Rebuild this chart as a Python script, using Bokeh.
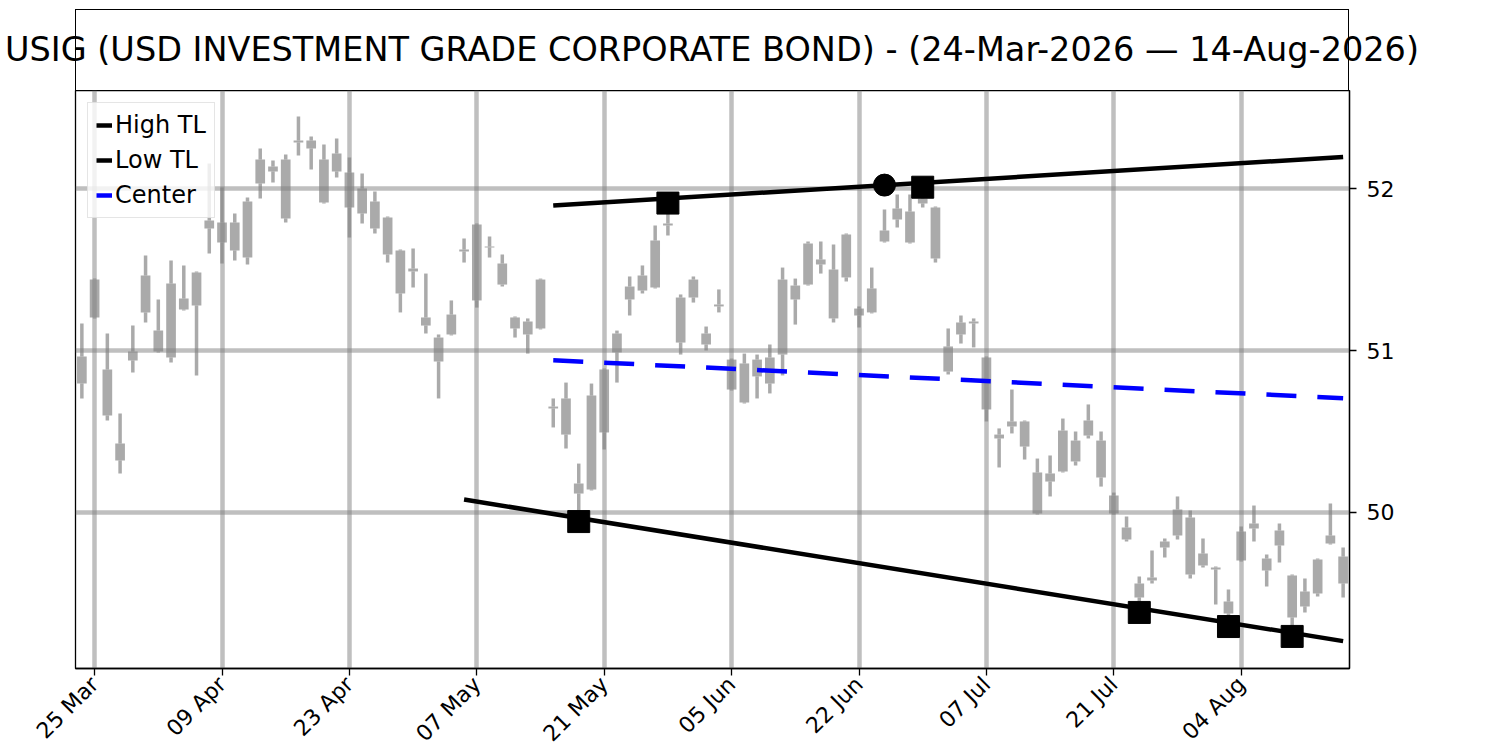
import math
import numpy as np
from bokeh.plotting import figure
from bokeh.layouts import column
from bokeh.models import FixedTicker, Range1d, ColumnDataSource, Legend, LegendItem, Div
from bokeh.embed import file_html
from bokeh.resources import INLINE

title_text = "USIG (USD INVESTMENT GRADE CORPORATE BOND) - (24-Mar-2026 \u2014 14-Aug-2026)"

tick_positions = [1, 11, 21, 31, 41, 51, 61, 71, 81, 91]
tick_labels = ["25 Mar", "09 Apr", "23 Apr", "07 May", "21 May",
               "05 Jun", "22 Jun", "07 Jul", "21 Jul", "04 Aug"]
y_ticks = [50, 51, 52]

opens = [50.796, 51.438, 50.883, 50.321, 50.938, 51.463, 50.994, 50.957, 51.253, 51.278,
         51.802, 51.790, 51.617, 51.574, 52.031, 52.136, 51.815, 52.296, 52.296, 51.914,
         52.216, 52.099, 52.000, 51.920, 51.821, 51.352, 51.506, 51.204, 50.932, 51.099,
         51.623, 51.309, 51.642, 51.537, 51.204, 51.099, 51.438, 50.654, 50.704, 50.117,
         50.142, 50.494, 50.988, 51.315, 51.370, 51.389, 51.784, 51.049, 51.438, 51.037,
         51.284, 50.944, 50.679, 50.944, 50.796, 50.975, 51.315, 51.407, 51.562, 51.198,
         51.716, 51.216, 51.235, 51.673, 51.877, 51.667, 51.938, 51.883, 50.870, 51.099,
         51.179, 50.957, 50.457, 50.562, 50.562, 49.994, 50.191, 50.506, 50.315, 50.568,
         50.444, 50.105, 49.907, 49.475, 49.580, 49.784, 50.019, 49.969, 49.747, 49.660,
         49.377, 49.704, 49.932, 49.642, 49.889, 49.611, 49.420, 49.500, 49.858, 49.728]
closes = [50.963, 51.204, 50.599, 50.426, 50.994, 51.235, 51.123, 51.414, 51.321, 51.481,
          51.753, 51.667, 51.790, 51.920, 52.179, 52.105, 52.179, 52.284, 52.247, 52.179,
          52.105, 51.883, 51.846, 51.753, 51.593, 51.617, 51.488, 51.154, 51.080, 51.222,
          51.611, 51.778, 51.636, 51.407, 51.136, 51.179, 51.136, 50.642, 50.481, 50.179,
          50.722, 50.883, 51.105, 51.395, 51.463, 51.679, 51.772, 51.327, 51.327, 51.105,
          51.272, 50.759, 50.920, 50.840, 50.957, 51.438, 51.401, 51.660, 51.531, 51.500,
          51.451, 51.259, 51.383, 51.741, 51.809, 51.858, 51.907, 51.568, 51.025, 51.173,
          51.167, 50.636, 50.481, 50.531, 50.407, 50.247, 50.241, 50.253, 50.444, 50.475,
          50.216, 49.994, 49.833, 49.562, 49.599, 49.821, 49.858, 49.617, 49.673, 49.648,
          49.451, 49.883, 49.901, 49.716, 49.796, 49.352, 49.512, 49.710, 49.809, 49.562]
highs = [51.167, 51.444, 51.105, 50.611, 51.154, 51.586, 51.315, 51.556, 51.525, 51.487,
         52.154, 52.006, 51.846, 51.944, 52.247, 52.173, 52.210, 52.444, 52.321, 52.272,
         52.309, 52.191, 52.093, 51.981, 51.827, 51.623, 51.630, 51.475, 51.099, 51.309,
         51.691, 51.784, 51.704, 51.593, 51.210, 51.198, 51.444, 50.704, 50.802, 50.302,
         50.796, 50.889, 51.123, 51.457, 51.525, 51.772, 51.910, 51.346, 51.457, 51.148,
         51.377, 50.950, 50.981, 50.975, 51.037, 51.512, 51.444, 51.673, 51.673, 51.654,
         51.722, 51.272, 51.512, 51.870, 51.963, 51.963, 52.008, 51.889, 51.136, 51.216,
         51.198, 50.963, 50.519, 50.759, 50.568, 50.333, 50.352, 50.580, 50.500, 50.667,
         50.500, 50.123, 49.975, 49.605, 49.765, 49.840, 50.099, 50.012, 49.840, 49.666,
         49.525, 49.914, 50.043, 49.741, 49.932, 49.617, 49.593, 49.716, 50.056, 49.784]
lows = [50.704, 51.198, 50.568, 50.241, 50.864, 51.173, 50.988, 50.926, 51.247, 50.846,
        51.599, 51.537, 51.556, 51.531, 51.938, 52.037, 51.790, 52.204, 52.117, 51.908,
        52.068, 51.698, 51.784, 51.722, 51.543, 51.235, 51.389, 51.105, 50.704, 51.093,
        51.543, 51.265, 51.574, 51.395, 51.080, 50.981, 51.130, 50.525, 50.395, 49.944,
        50.136, 50.389, 50.802, 51.216, 51.352, 51.383, 51.710, 50.975, 51.296, 51.000,
        51.235, 50.753, 50.673, 50.704, 50.735, 50.846, 51.160, 51.401, 51.475, 51.173,
        51.426, 51.142, 51.229, 51.667, 51.759, 51.661, 51.883, 51.543, 50.852, 51.043,
        51.019, 50.562, 50.278, 50.488, 50.327, 49.988, 50.099, 50.247, 50.290, 50.457,
        50.160, 49.988, 49.821, 49.383, 49.562, 49.722, 49.833, 49.593, 49.660, 49.432,
        49.296, 49.698, 49.821, 49.543, 49.691, 49.235, 49.383, 49.481, 49.803, 49.475]

high_tl_x = [37, 99]
high_tl_y = [51.895, 52.195]
low_tl_x = [30, 99]
low_tl_y = [50.080, 49.206]
center_x = [37, 99]
center_y = [50.940, 50.705]
high_pivot_idx = [46, 66]
low_pivot_idx = [39, 83, 90, 95]
touch_x = [63]
touch_y = [52.021]

FONT = "DejaVu Sans"

# layout (pixels)
FRAME_W = 1274
CHART_H = 578
LEFT, RIGHT, BOTTOM = 75, 70, 90
BAND_TOP, BAND_H = 9, 81

x_lo, x_hi = -0.5, 99.5
y_lo, y_hi = 49.037, 52.605

# ---------- title band (boxed, text may overflow the box like the original) ----------
title_html = (
    f'<div style="position:relative;width:{LEFT + FRAME_W + RIGHT}px;height:{BAND_TOP + BAND_H}px;">'
    f'<div style="position:absolute;left:{LEFT}px;top:{BAND_TOP}px;width:{FRAME_W}px;'
    f'height:{BAND_H + 1}px;border:1.3px solid black;box-sizing:border-box;"></div>'
    f'<div style="position:absolute;left:0px;top:{BAND_TOP}px;width:{2 * LEFT + FRAME_W}px;'
    f'height:{BAND_H}px;display:flex;align-items:center;justify-content:center;'
    f'white-space:nowrap;font-family:\'DejaVu Sans\';font-size:33.5px;color:black;">'
    f'{title_text}</div></div>'
)
title_div = Div(text=title_html, width=LEFT + FRAME_W + RIGHT, height=BAND_TOP + BAND_H, margin=0)

# ---------- main chart ----------
o = np.array(opens); c = np.array(closes)
h = np.array(highs); l = np.array(lows)
idx = np.arange(len(o))
top = np.maximum(o, c); bot = np.minimum(o, c)
src = ColumnDataSource(dict(x=idx, top=top, bot=bot, high=h, low=l))

p = figure(width=LEFT + FRAME_W + RIGHT, height=CHART_H + BOTTOM,
           x_range=Range1d(x_lo, x_hi), y_range=Range1d(y_lo, y_hi),
           y_axis_location="right", output_backend="svg", toolbar_location=None,
           min_border_left=LEFT, min_border_right=RIGHT, min_border_top=0,
           min_border_bottom=BOTTOM, margin=0)
p.outline_line_color = "black"
p.outline_line_width = 1.3
p.outline_line_alpha = 1.0

p.xgrid.ticker = FixedTicker(ticks=tick_positions)
p.ygrid.ticker = FixedTicker(ticks=y_ticks)
for g in (p.xgrid[0], p.ygrid[0]):
    g.grid_line_color = "#808080"
    g.grid_line_alpha = 0.5
    g.grid_line_width = 4.5

p.xaxis.ticker = FixedTicker(ticks=tick_positions)
p.xaxis.major_label_overrides = {t: s for t, s in zip(tick_positions, tick_labels)}
p.xaxis.major_label_orientation = math.pi / 4
p.yaxis.ticker = FixedTicker(ticks=y_ticks)
for ax in (p.xaxis[0], p.yaxis[0]):
    ax.axis_line_color = "black"
    ax.axis_line_width = 1.3
    ax.major_tick_line_color = "black"
    ax.major_tick_line_width = 1.3
    ax.major_tick_out = 7
    ax.major_tick_in = 0
    ax.minor_tick_out = 0
    ax.minor_tick_in = 0
    ax.major_label_text_font = FONT
    ax.major_label_text_font_size = "22px"
    ax.major_label_text_color = "black"
p.xaxis.major_label_standoff = 5
p.yaxis.major_label_standoff = 10

CANDLE = "#808080"
p.segment(x0="x", y0="high", x1="x", y1="top", source=src, line_color=CANDLE,
          line_alpha=0.67, line_width=3.5)
p.segment(x0="x", y0="bot", x1="x", y1="low", source=src, line_color=CANDLE,
          line_alpha=0.67, line_width=3.5)
p.vbar(x="x", width=0.76, top="top", bottom="bot", source=src, fill_color=CANDLE,
       fill_alpha=0.67, line_color=None)

r_hi = p.line(high_tl_x, high_tl_y, line_color="black", line_width=4.5)
r_lo = p.line(low_tl_x, low_tl_y, line_color="black", line_width=4.5)
r_c = p.line(center_x, center_y, line_color="blue", line_width=4.5, line_dash="30 21")

p.scatter(x=high_pivot_idx, y=[highs[i] for i in high_pivot_idx], marker="square",
          size=22, fill_color="black", line_color="black")
p.scatter(x=low_pivot_idx, y=[lows[i] for i in low_pivot_idx], marker="square",
          size=22, fill_color="black", line_color="black")
p.scatter(x=touch_x, y=touch_y, marker="circle", size=22, fill_color="black", line_color="black")

legend = Legend(items=[LegendItem(label="High TL", renderers=[r_hi]),
                       LegendItem(label="Low TL", renderers=[r_lo]),
                       LegendItem(label="Center", renderers=[r_c])],
                location="top_left")
legend.margin = 12
legend.padding = 8
legend.spacing = 7
legend.glyph_width = 16
legend.glyph_height = 22
legend.label_standoff = 3
legend.label_text_font = FONT
legend.label_text_font_size = "24px"
legend.label_text_color = "black"
legend.border_line_color = "#cccccc"
legend.border_line_width = 1.3
legend.background_fill_alpha = 0.8
p.add_layout(legend)

open("out.html", "w").write(file_html(column(title_div, p, spacing=0), INLINE))
